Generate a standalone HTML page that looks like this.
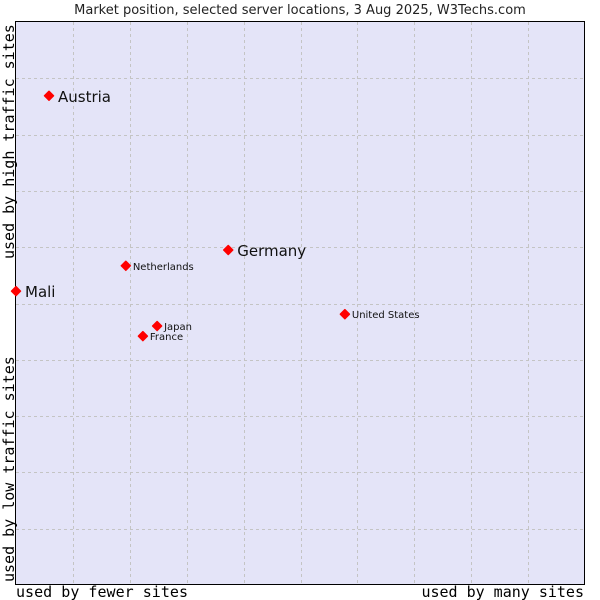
<!DOCTYPE html>
<html><head><meta charset="utf-8"><style>
body{margin:0;background:#fff;width:600px;height:600px;overflow:hidden}
svg{display:block}
text{font-family:"DejaVu Sans","Liberation Sans",sans-serif}
.mono{font-family:"DejaVu Sans Mono",monospace}
</style></head><body>
<svg id="chart" width="600" height="600">
<text x="300" y="14" text-anchor="middle" font-size="13" fill="#222">Market position, selected server locations, 3 Aug 2025, W3Techs.com</text>
<rect x="15.5" y="21.5" width="569" height="563" fill="#e4e4f8" stroke="#000" stroke-width="1"/>
<g id="grid"></g>
<g id="pts"></g>
<text class="mono" x="16" y="597" font-size="15" textLength="172" fill="#000">used by fewer sites</text>
<text class="mono" x="584" y="597" text-anchor="end" font-size="15" fill="#000">used by many sites</text>
<text class="mono" transform="translate(14,582) rotate(-90)" font-size="15" fill="#000">used by low traffic sites</text>
<text class="mono" transform="translate(14,259) rotate(-90)" font-size="15" fill="#000">used by high traffic sites</text>
</svg>
<script>
const names=["Austria","Germany","Netherlands","Mali","United States","Japan","France"];
const xs=[0.58,3.73,1.93,0,5.78,2.48,2.23];
const ys=[8.69,5.95,5.67,5.22,4.81,4.60,4.42];
const big=[true,true,false,true,false,false,false];
const gridTicks=[1,2,3,4,5,6,7,8,9];
const X=v=>16+v*56.9, Y=v=>585-v*56.3;
const ns="http://www.w3.org/2000/svg";
const g=document.getElementById('grid');
gridTicks.forEach(t=>{
 const a=document.createElementNS(ns,'line');
 
 
 a.setAttribute('x1',Math.round(X(t))+0.5);a.setAttribute('x2',Math.round(X(t))+0.5);a.setAttribute('y1',22);a.setAttribute('y2',584);
 a.setAttribute('stroke','#c4c4c4');a.setAttribute('stroke-dasharray','3,3');g.appendChild(a);
 const b=document.createElementNS(ns,'line');
 
 
 b.setAttribute('y1',Math.round(Y(t))+0.5);b.setAttribute('y2',Math.round(Y(t))+0.5);b.setAttribute('x1',16);b.setAttribute('x2',584);
 b.setAttribute('stroke','#c4c4c4');b.setAttribute('stroke-dasharray','3,3');g.appendChild(b);
});
const p=document.getElementById('pts');
names.forEach((n,i)=>{
 const cx=X(xs[i]),cy=Y(ys[i]);
 const m=document.createElementNS(ns,'polygon');
 
 
 m.setAttribute('points',`${cx},${cy-4.5} ${cx+4.5},${cy} ${cx},${cy+4.5} ${cx-4.5},${cy}`);
 m.setAttribute('fill','#f00');m.setAttribute('stroke','#f00');m.setAttribute('stroke-linejoin','round');m.setAttribute('stroke-width','1.5');
 p.appendChild(m);
 const t=document.createElementNS(ns,'text');
 
 
 t.setAttribute('x',cx+(big[i]?9:7));t.setAttribute('y',cy+(big[i]?6:4));
 t.setAttribute('font-size',big[i]?15:10);t.setAttribute('fill','#111');
 t.textContent=n;p.appendChild(t);
});
</script>
</body></html>
